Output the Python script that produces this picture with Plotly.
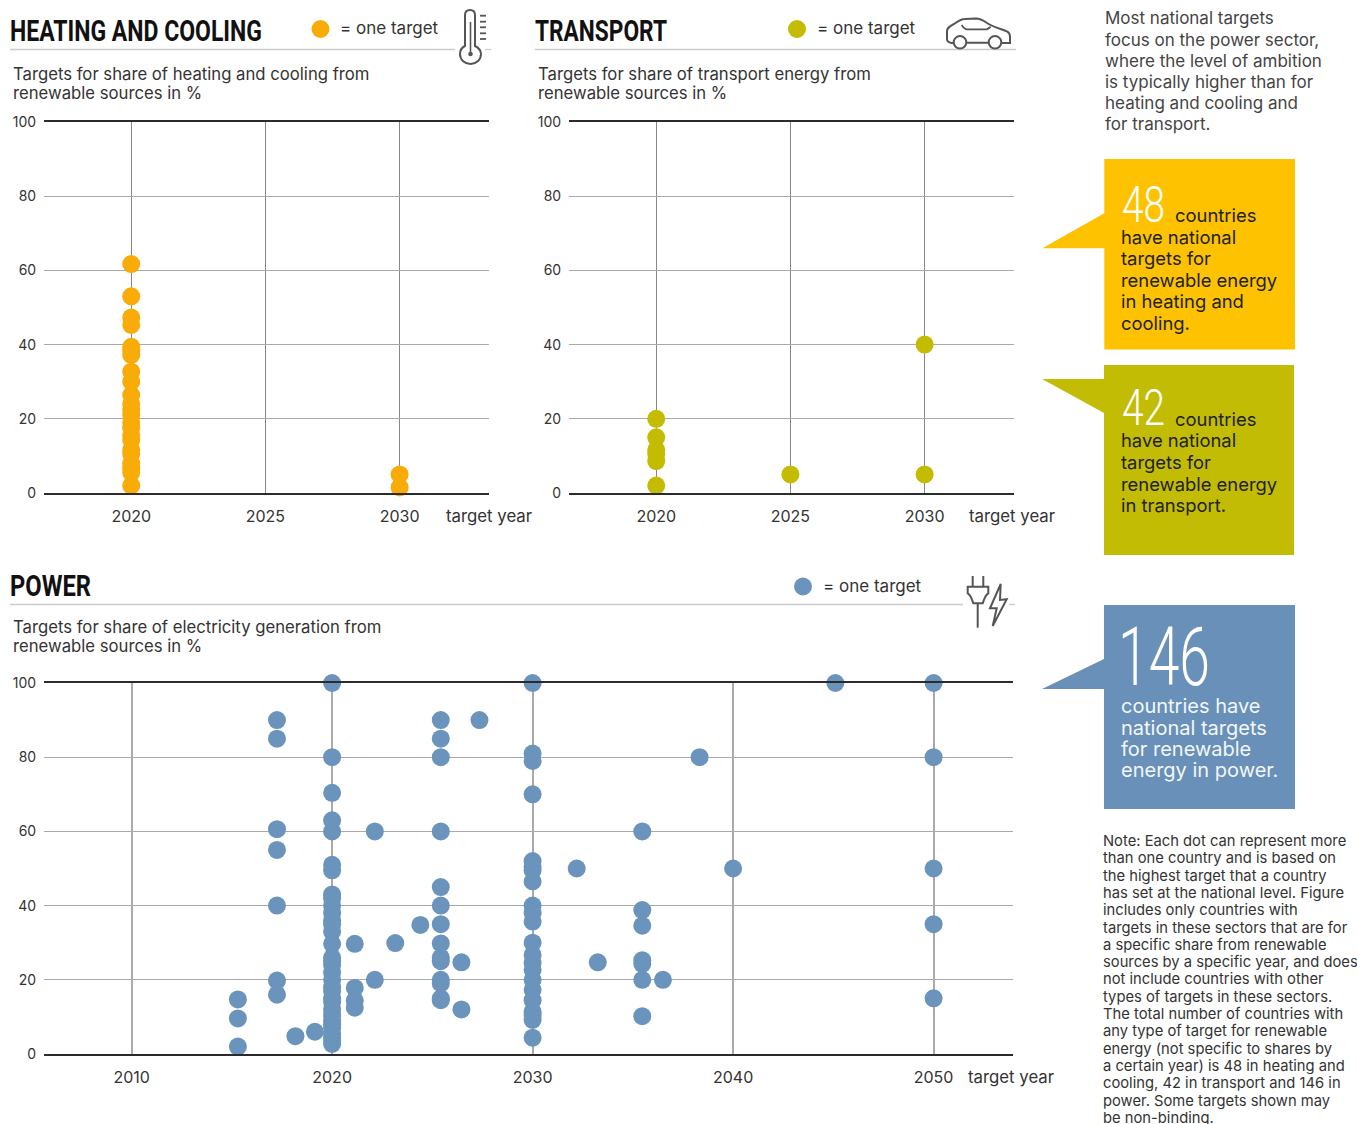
import json
import plotly.graph_objects as go

W, H = 1357, 1124

# ---- data ----
heat_years = [2020] * 23 + [2030, 2030]
heat_values = [61.7, 53, 47.3, 45.3, 39.4, 38.5, 37.2, 32.7, 30, 26.4, 24, 22.5, 21, 19, 17.5, 15.5, 14.3,
               11.6, 10.5, 8, 6.7, 5.5, 2, 5, 1.5]
trans_years = [2020, 2020, 2020, 2020, 2020, 2020, 2025, 2030, 2030]
trans_values = [20, 15, 11.6, 10.5, 8.6, 2, 5, 40, 5]
power_years = [
    2015.3, 2015.3, 2015.3,
    2017.25, 2017.25, 2017.25, 2017.25, 2017.25, 2017.25, 2017.25,
    2018.17, 2019.14,
    2020, 2020, 2020, 2020, 2020, 2020, 2020,
    2020, 2020, 2020, 2020, 2020, 2020, 2020, 2020, 2020,
    2020, 2020, 2020, 2020, 2020, 2020, 2020, 2020, 2020,
    2020, 2020, 2020, 2020, 2020, 2020, 2020, 2020,
    2021.13, 2021.13, 2021.13, 2021.13,
    2022.13, 2022.13, 2023.15, 2024.4,
    2025.42, 2025.42, 2025.42, 2025.42, 2025.42, 2025.42, 2025.42, 2025.42,
    2025.42, 2025.42, 2025.42, 2025.42, 2025.42, 2025.42,
    2026.45, 2026.45, 2027.35,
    2030, 2030, 2030, 2030, 2030, 2030, 2030, 2030, 2030, 2030, 2030,
    2030, 2030, 2030, 2030, 2030, 2030, 2030, 2030, 2030, 2030, 2030,
    2032.2, 2033.25,
    2035.47, 2035.47, 2035.47, 2035.47, 2035.47, 2035.47, 2035.47,
    2036.5, 2038.33, 2040, 2045.1,
    2050, 2050, 2050, 2050, 2050,
]
power_values = [
    14.7, 9.6, 2,
    90, 85, 60.6, 55, 40, 19.8, 16,
    4.8, 6,
    100, 80, 70.4, 63, 60, 51, 49.5,
    43, 42, 40, 38, 36, 35, 33, 29.7, 26,
    25, 24, 22, 20, 18, 17, 15, 14, 12,
    10.5, 9, 8, 7, 5.5, 4.5, 3.5, 2.7,
    29.7, 17.8, 14.4, 12.5,
    60, 20, 29.9, 34.8,
    90, 85, 80, 60, 45, 40, 35, 29.8,
    26, 25, 20, 19, 15, 14.5,
    24.7, 12, 90,
    100, 81, 79, 70, 52, 50.5, 49.5, 46.5, 40, 38, 35.7,
    30, 26.7, 24.5, 22.7, 20, 17.3, 14.5, 11.4, 10.5, 9.2, 4.4,
    50, 24.7,
    60, 38.8, 34.6, 25.3, 24.3, 20, 10.2,
    20, 80, 50, 100,
    100, 80, 50, 35, 15,
]

small_years = [2020, 2025, 2030]
power_ticks = [2010, 2020, 2030, 2040, 2050]
y_ticks = [0, 20, 40, 60, 80, 100]

ORANGE, OLIVE, BLUE = "#f9ab07", "#c3bc00", "#6a94bc"
BOX1, BOX2, BOX3 = "#fec200", "#c3bc05", "#6890b9"
INK = "#333333"
BODY = "Inter"
HEAD = "Roboto"

# Everything decorative is placed on a hidden page-sized axis pair measured in pixels.
PAGE = dict(xref="x4", yref="y4")
shapes, notes, squeeze = [], [], {}


def poly(d, fill=None, line=None, lw=2):
    shapes.append(dict(type="path", **PAGE, path=d, fillcolor=fill or "rgba(0,0,0,0)",
                       line=dict(color=line or "rgba(0,0,0,0)", width=lw if line else 0)))


def rule(x0, x1, y, color="#cccccc", lw=1.3):
    shapes.append(dict(type="line", **PAGE, x0=x0, x1=x1, y0=y, y1=y, line=dict(color=color, width=lw)))


def circle(cx, cy, r, fill=None, line=None, lw=2):
    shapes.append(dict(type="circle", **PAGE, x0=cx - r, x1=cx + r, y0=cy - r, y1=cy + r,
                       fillcolor=fill or "rgba(0,0,0,0)",
                       line=dict(color=line or "rgba(0,0,0,0)", width=lw if line else 0)))


def text(x, y, s, size=16.7, color=INK, family=BODY, weight=None, fit=None):
    f = dict(family=family, size=size, color=color)
    if weight:
        f["weight"] = weight
    if fit:
        squeeze[s] = fit
    notes.append(dict(**PAGE, x=x, y=y, text=s, showarrow=False, xanchor="left", yanchor="middle",
                      align="left", font=f, borderpad=0, borderwidth=0))


def lines(x, ys, rows, **kw):
    for y, r in zip(ys, rows):
        text(x, y, r, **kw)


# ---- section headers ----
rule(10, 455, 49.5)
rule(485, 491, 49.5)
rule(535, 1016, 49.5)
rule(10, 963, 604.5)
rule(1009, 1015, 604.5)
text(10, 31, "HEATING AND COOLING", size=29, color="#111111", family=HEAD, weight=700, fit=252)
text(535, 31, "TRANSPORT", size=29, color="#111111", family=HEAD, weight=700, fit=132)
text(10, 586, "POWER", size=29, color="#111111", family=HEAD, weight=700, fit=81)
for cx, cy, col in [(320.5, 29, ORANGE), (797, 29, OLIVE), (803, 586.5, BLUE)]:
    circle(cx, cy, 9, fill=col)
    text(cx + 19.5, cy - 1, "= one target", size=17)
lines(13, [74, 93], ["Targets for share of heating and cooling from", "renewable sources in %"])
lines(538, [74, 93], ["Targets for share of transport energy from", "renewable sources in %"])
lines(13, [627, 646], ["Targets for share of electricity generation from", "renewable sources in %"])
text(446, 516, "target year", size=16.8)
text(969, 516, "target year", size=16.8)
text(968, 1077, "target year", size=16.8)

# ---- icons ----
ICON = "#555555"
poly("M465 46 L465 15 C465 12 467 10 470 10 C473 10 475 12 475 15 L475 46 "
     "C479 48 481 51 481 54 C481 60 476 64 470.5 64 C465 64 460 60 460 54 C460 51 461 48 465 46 Z",
     fill="white", line=ICON)
poly("M470.5 22 L470.5 54", line=ICON, lw=1.6)
circle(470.5, 54, 2.3, fill=ICON)
for yy in (15.7, 21.7, 27.3, 33.3, 39):
    poly(f"M480 {yy} L486 {yy}", line=ICON, lw=1.8)

poly("M953.5 43 L951.5 43 C948.5 42.5 947 41 947 39 L947 31 C947 28 950 26 954 24 "
     "C958 21 961 19 965 19 L976 18.5 C981 18.5 984 21 987 23 C993 27 1001 29 1006 31 "
     "C1009 32 1010 34 1010 37 L1010 43 L1002 43 M988.5 42.7 L966.5 42.7", line=ICON)
circle(960, 42.3, 6.3, fill="white", line=ICON)
circle(995, 42.3, 6.3, fill="white", line=ICON)
poly("M961.7 25 C963 27 965 29.3 967 29.3 L987 29.3 L990.7 26.7", line=ICON, lw=1.8)

poly("M972.7 576 L972.7 586.7 M983.3 576 L983.3 586.7", line=ICON)
poly("M967.7 586.7 L988.3 586.7 L988.3 593.3 C985 595 984 600 982.7 603.3 L973.3 603.3 "
     "C972 600 971 595 967.7 593.3 Z", line=ICON)
poly("M977.7 603.3 L977.7 627.7", line=ICON)
poly("M1000.7 584 L990 608.3 L996.7 608.3 L992.7 626 L1006.7 599.3 L1000 600 Z", line=ICON)

# ---- right column ----
lines(1105, [18, 39.5, 60.5, 81.5, 103, 124],
      ["Most national targets", "focus on the power sector,", "where the level of ambition",
       "is typically higher than for", "heating and cooling and", "for transport."], size=17, color="#444444")

poly("M1104.3 159 L1295 159 L1295 349.5 L1104.3 349.5 L1104.3 248.3 L1042.3 248.3 L1104.3 213.3 Z", fill=BOX1)
text(1122, 205, "48", size=50, color="white", family=HEAD, weight=300, fit=43)
text(1175, 215, "countries", size=18.4, color="#222222")
lines(1121, [236.5, 258, 279.5, 301, 322.5],
      ["have national", "targets for", "renewable energy", "in heating and", "cooling."],
      size=18.4, color="#222222")

poly("M1104 365 L1294 365 L1294 555 L1104 555 L1104 413 L1042 379 L1104 379 Z", fill=BOX2)
text(1122, 408, "42", size=50, color="white", family=HEAD, weight=300, fit=43)
text(1175, 419, "countries", size=18.4, color="#222222")
lines(1121, [440, 462, 483.5, 504.5],
      ["have national", "targets for", "renewable energy", "in transport."], size=18.4, color="#222222")

poly("M1104 605 L1295 605 L1295 809 L1104 809 L1104 689 L1042 689 L1104 659 Z", fill=BOX3)
text(1118, 657, "146", size=81, color="white", family=HEAD, weight=300, fit=92)
lines(1121, [706, 727.5, 748.5, 770],
      ["countries have", "national targets", "for renewable", "energy in power."], size=20, color="#f4f7fa")

note_rows = ["Note: Each dot can represent more", "than one country and is based on",
             "the highest target that a country", "has set at the national level. Figure",
             "includes only countries with", "targets in these sectors that are for",
             "a specific share from renewable", "sources by a specific year, and does",
             "not include countries with other", "types of targets in these sectors.",
             "The total number of countries with", "any type of target for renewable",
             "energy (not specific to shares by", "a certain year) is 48 in heating and",
             "cooling, 42 in transport and 146 in", "power. Some targets shown may",
             "be non-binding."]
lines(1103, [841 + 17.3 * i for i in range(len(note_rows))], note_rows, size=14.75, color="#333333")

# ---- charts ----
fig = go.Figure()
for xs, ys, col, ax in [(heat_years, heat_values, ORANGE, ""), (trans_years, trans_values, OLIVE, "2"),
                        (power_years, power_values, BLUE, "3")]:
    fig.add_trace(go.Scatter(x=xs, y=ys, mode="markers", xaxis="x" + ax, yaxis="y" + ax, cliponaxis=False,
                             marker=dict(color=col, size=18, line=dict(width=0)), hoverinfo="x+y",
                             showlegend=False))
# empty trace so that the hidden pixel axes exist
fig.add_trace(go.Scatter(x=[None], y=[None], xaxis="x4", yaxis="y4", showlegend=False, hoverinfo="skip"))


def xax(x0, x1, rng, ticks, grid):
    return dict(domain=[x0 / W, x1 / W], range=rng, tickmode="array", tickvals=ticks,
                ticktext=[str(t) for t in ticks], showgrid=True, gridcolor=grid, gridwidth=1,
                zeroline=False, showline=True, mirror=True, linecolor="#2b2b2b", linewidth=1.5,
                ticks="outside", ticklen=8, tickcolor="rgba(0,0,0,0)", tickwidth=0,
                automargin=False, tickfont=dict(family=BODY, size=16, color=INK))


def yax(anchor, y0, y1):
    return dict(domain=[1 - y0 / H, 1 - y1 / H], range=[0, 100], anchor=anchor, tickmode="array",
                tickvals=y_ticks, showgrid=True, gridcolor="#aaaaaa", gridwidth=1.2, zeroline=False,
                showline=False, ticks="outside", ticklen=4, tickcolor="rgba(0,0,0,0)", tickwidth=0,
                automargin=False, tickfont=dict(family=BODY, size=14, color=INK))


fig.update_layout(
    width=W, height=H, margin=dict(l=0, r=0, t=0, b=0, pad=0, autoexpand=False), autosize=False,
    paper_bgcolor="white", plot_bgcolor="rgba(0,0,0,0)", showlegend=False,
    xaxis=xax(44, 489, [2016.75, 2033.33], small_years, "#888888"),
    yaxis=yax("x", 493, 122),
    xaxis2=xax(569, 1014, [2016.75, 2033.33], small_years, "#888888") | dict(anchor="y2"),
    yaxis2=yax("x2", 493, 122),
    xaxis3=xax(44, 1013, [2005.63, 2053.96], power_ticks, "#aaaaaa") | dict(anchor="y3", gridwidth=1.5),
    yaxis3=yax("x3", 1054, 683),
    xaxis4=dict(domain=[0, 1], range=[0, W], visible=False, anchor="y4"),
    yaxis4=dict(domain=[0, 1], range=[H, 0], visible=False, anchor="x4"),
    shapes=shapes, annotations=notes,
)
assert len(power_years) == len(power_values) and len(heat_years) == len(heat_values)

post = (
    "document.body.style.margin='0';document.documentElement.style.overflow='hidden';"
    "var fit=" + json.dumps(squeeze) + ";"
    "document.querySelectorAll('.annotation-text').forEach(function(t){"
    "var w=fit[t.textContent];if(w){t.setAttribute('textLength',w);"
    "t.setAttribute('lengthAdjust','spacingAndGlyphs');}});"
)
fig.write_html("out.html", config=dict(displayModeBar=False), post_script=post)
